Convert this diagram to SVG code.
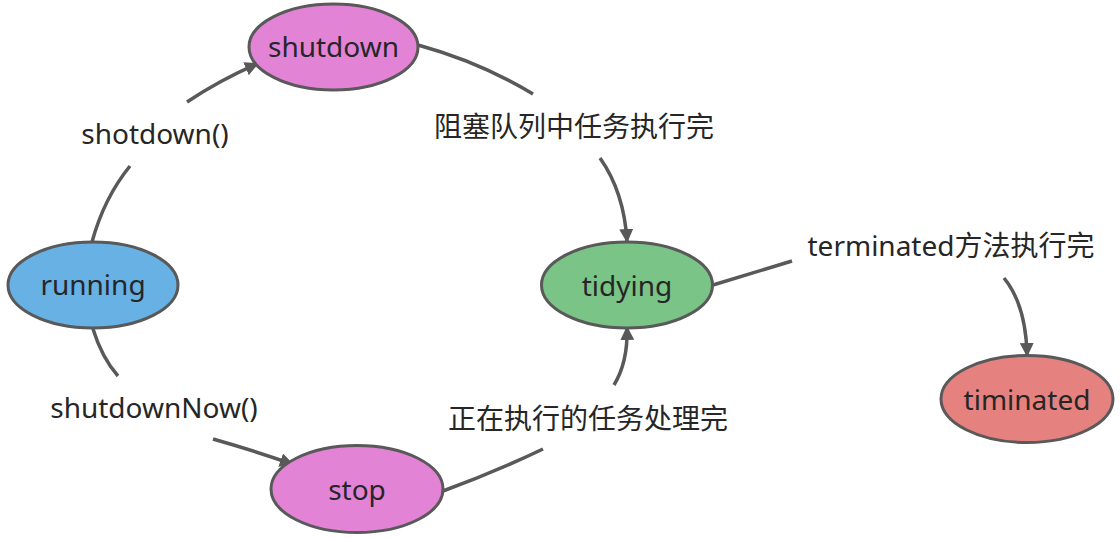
<svg xmlns="http://www.w3.org/2000/svg" width="1120" height="538" viewBox="0 0 1120 538">
<style>
  .node { stroke: #595959; stroke-width: 3; }
  .edge { fill: none; stroke: #595959; stroke-width: 3.5; }
  text { font-family: "Noto Sans", "Noto Sans CJK SC", sans-serif; font-size: 28px; fill: #262626; text-anchor: middle; }
</style>
<defs>
  <marker id="arrow" viewBox="0 0 14 14" refX="12" refY="7" markerWidth="14" markerHeight="14" markerUnits="userSpaceOnUse" orient="auto">
    <path d="M0,0 L14,7 L0,14 Z" fill="#595959"/>
  </marker>
</defs>
<rect width="1120" height="538" fill="#ffffff"/>
<g id="connectors">
  <path class="edge" d="M92,242 Q104,198 130,166"/>
  <path class="edge" d="M187,102 Q220,80 257,64" marker-end="url(#arrow)"/>
  <path class="edge" d="M418,45 Q480,62 533,94"/>
  <path class="edge" d="M600,158 Q624,192 627,241" marker-end="url(#arrow)"/>
  <path class="edge" d="M713,285 L792,261"/>
  <path class="edge" d="M1004,278 Q1026,305 1027,355" marker-end="url(#arrow)"/>
  <path class="edge" d="M93,329 Q102,358 118,376"/>
  <path class="edge" d="M213,439 Q252,450 292,464" marker-end="url(#arrow)"/>
  <path class="edge" d="M443,491 Q495,472 543,449"/>
  <path class="edge" d="M614,385 Q628,362 627,328" marker-end="url(#arrow)"/>
  <text x="155" y="144">shotdown()</text>
  <text x="574" y="137">阻塞队列中任务执行完</text>
  <text x="951" y="256">terminated方法执行完</text>
  <text x="154" y="418">shutdownNow()</text>
  <text x="588" y="429">正在执行的任务处理完</text>
</g>
<g id="shutdown">
  <ellipse class="node" cx="333.5" cy="47" rx="84.5" ry="43" fill="#e383d6"/>
  <text x="333.5" y="57">shutdown</text>
</g>
<g id="running">
  <ellipse class="node" cx="93" cy="285" rx="85" ry="43" fill="#67b1e4"/>
  <text x="93" y="295">running</text>
</g>
<g id="tidying">
  <ellipse class="node" cx="627" cy="285" rx="85.5" ry="43" fill="#79c486"/>
  <text x="627" y="296">tidying</text>
</g>
<g id="stop">
  <ellipse class="node" cx="357" cy="489" rx="86" ry="43.5" fill="#e383d6"/>
  <text x="357" y="500">stop</text>
</g>
<g id="timinated">
  <ellipse class="node" cx="1027" cy="399" rx="86" ry="43.5" fill="#e5817e"/>
  <text x="1027" y="410">timinated</text>
</g>
</svg>
